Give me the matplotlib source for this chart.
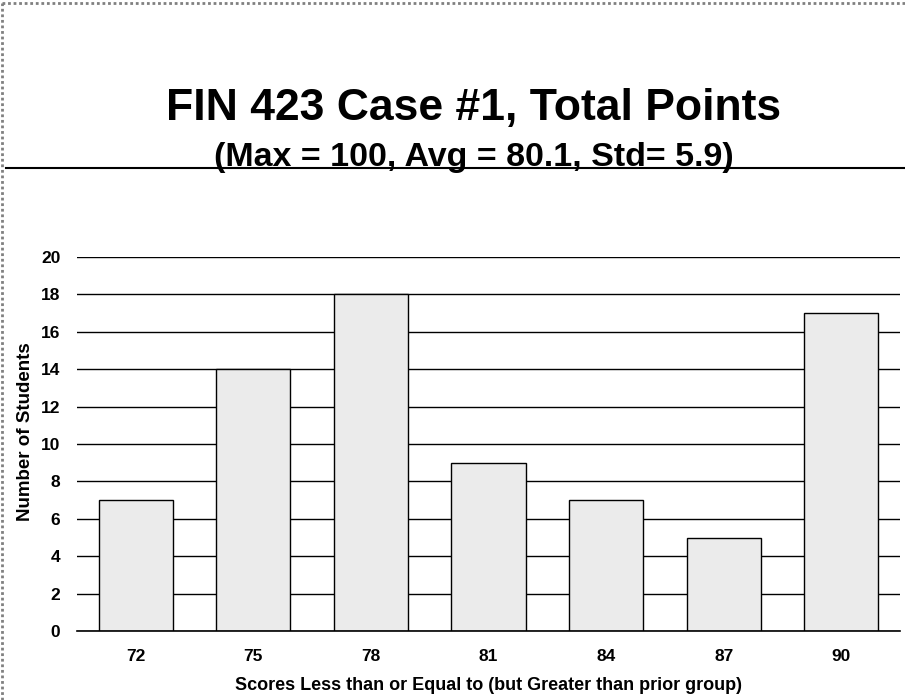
import matplotlib.pyplot as plt
from matplotlib.lines import Line2D

scores = ["72", "75", "78", "81", "84", "87", "90"]
students = [7, 14, 18, 9, 7, 5, 17]
yticks = [0, 2, 4, 6, 8, 10, 12, 14, 16, 18, 20]

plt.rcParams['font.family'] = ['Liberation Sans', 'DejaVu Sans']
plt.rcParams['font.weight'] = 'bold'

fig = plt.figure(figsize=(9.05, 7), dpi=100)
ax = fig.add_axes([77 / 905, 1 - 631 / 700, 823 / 905, 374 / 700])

x = range(len(scores))
ax.bar(x, students, width=0.63, color='#ebebeb', edgecolor='black', linewidth=1, zorder=3)
ax.set_xlim(-0.5, len(scores) - 0.5)
ax.set_ylim(0, 20)
ax.set_yticks(yticks)
ax.set_xticks(list(x))
ax.set_xticklabels(scores)
ax.yaxis.grid(True, color='black', linewidth=1)
ax.set_axisbelow(True)
for s in ['top', 'right', 'left']:
    ax.spines[s].set_visible(False)
ax.spines['bottom'].set_linewidth(1.2)
ax.spines['bottom'].set_zorder(4)
ax.tick_params(length=0, labelsize=12.5)
ax.tick_params(axis='y', pad=12)
ax.tick_params(axis='x', pad=13)
ax.set_ylabel("Number of Students", fontsize=13.5, fontweight='bold')
ax.yaxis.set_label_coords(-0.052, 0.533)
ax.set_xlabel("Scores Less than or Equal to (but Greater than prior group)",
              fontsize=13, fontweight='bold', labelpad=9)

fig.text(474 / 905, 1 - 120 / 700, "FIN 423 Case #1, Total Points",
         ha='center', va='baseline', fontsize=32, fontweight='bold')
fig.text(474 / 905, 1 - 166 / 700, "(Max = 100, Avg = 80.1, Std= 5.9)",
         ha='center', va='baseline', fontsize=24.5, fontweight='bold')

# rule under the heading and the frame edges
fig.add_artist(Line2D([6 / 905, 1], [1 - 168 / 700, 1 - 168 / 700], color='black', linewidth=1.5))
fig.add_artist(Line2D([2 / 905, 2 / 905], [0, 1 - 3 / 700], color='#808080', linewidth=2, linestyle=(0, (1, 1))))
fig.add_artist(Line2D([2 / 905, 1], [1 - 3 / 700, 1 - 3 / 700], color='#808080', linewidth=2, linestyle=(0, (1, 1))))

fig.savefig("out.png", dpi=100)
